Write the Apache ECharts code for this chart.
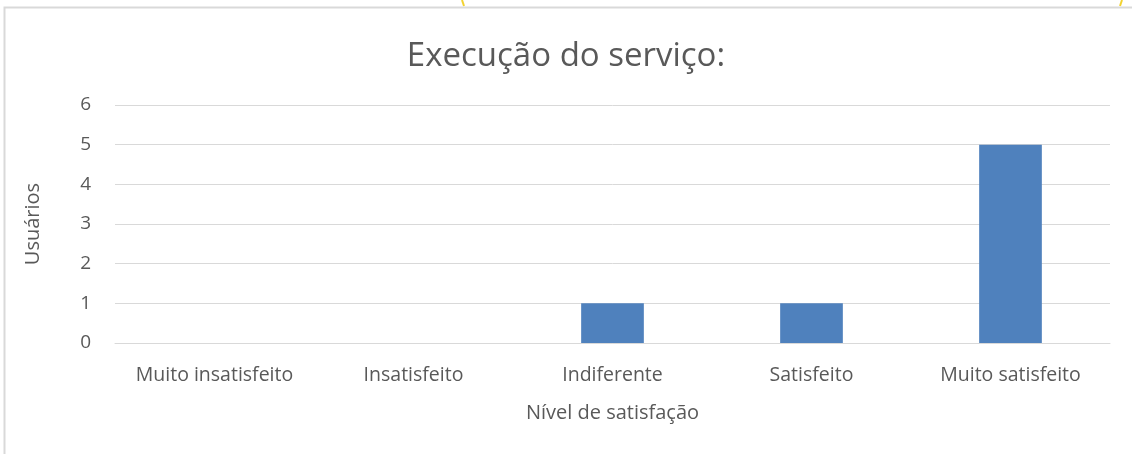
<!DOCTYPE html>
<html>
<head>
<meta charset="utf-8">
<script src="https://cdn.jsdelivr.net/npm/echarts@6/dist/echarts.min.js"></script>
<style>
  html, body { margin: 0; padding: 0; background: #fff; }
  #main { width: 1132px; height: 454px; }
</style>
</head>
<body>
<div id="main"></div>
<script>
// dados do gráfico
var categorias = ['Muito insatisfeito', 'Insatisfeito', 'Indiferente', 'Satisfeito', 'Muito satisfeito'];
var usuarios = [0, 0, 1, 1, 5];
var tituloTexto = 'Execução do serviço:';

var myChart = echarts.init(document.getElementById('main'));

var fonte = '"Open Sans", "Noto Sans", sans-serif';
var cinza = '#595959';

var option = {
    animation: false,
    backgroundColor: '#fff',
    title: {
        text: tituloTexto,
        left: 'center',
        top: 35,
        textStyle: { fontFamily: fonte, fontSize: 33, fontWeight: 'normal', color: cinza }
    },
    graphic: [
        {
            type: 'rect',
            shape: { x: 4.5, y: 7.5, width: 1140, height: 460 },
            style: { fill: null, stroke: '#d9d9d9', lineWidth: 2 },
            silent: true
        },
        {
            type: 'line',
            shape: { x1: 462, y1: 0, x2: 464, y2: 6 },
            style: { stroke: '#f2d230', lineWidth: 2 }
        },
        {
            type: 'line',
            shape: { x1: 1122, y1: 0, x2: 1120, y2: 6 },
            style: { stroke: '#f2d230', lineWidth: 2 }
        }
    ],
    grid: { left: 115, right: 22, top: 105, bottom: 111 },
    xAxis: {
        type: 'category',
        data: categorias,
        name: 'Nível de satisfação',
        nameLocation: 'middle',
        nameGap: 60,
        nameTextStyle: { fontFamily: fonte, fontSize: 20, color: cinza },
        axisLine: { show: true, lineStyle: { color: '#d9d9d9', width: 1 } },
        axisTick: { show: false },
        axisLabel: { interval: 0, fontFamily: fonte, fontSize: 19.5, color: cinza, margin: 22 }
    },
    yAxis: {
        type: 'value',
        min: 0,
        max: 6,
        interval: 1,
        name: 'Usuários',
        nameLocation: 'middle',
        nameGap: 72,
        nameTextStyle: { fontFamily: fonte, fontSize: 20, color: cinza },
        axisLine: { show: false },
        axisTick: { show: false },
        axisLabel: { fontFamily: fonte, fontSize: 19, color: cinza, margin: 24 },
        splitLine: { lineStyle: { color: '#d9d9d9', width: 1 } }
    },
    series: [
        {
            name: 'Usuários',
            type: 'bar',
            data: usuarios,
            barWidth: '31.5%',
            itemStyle: { color: '#4f81bd' }
        }
    ]
};
myChart.setOption(option);
</script>
</body>
</html>
